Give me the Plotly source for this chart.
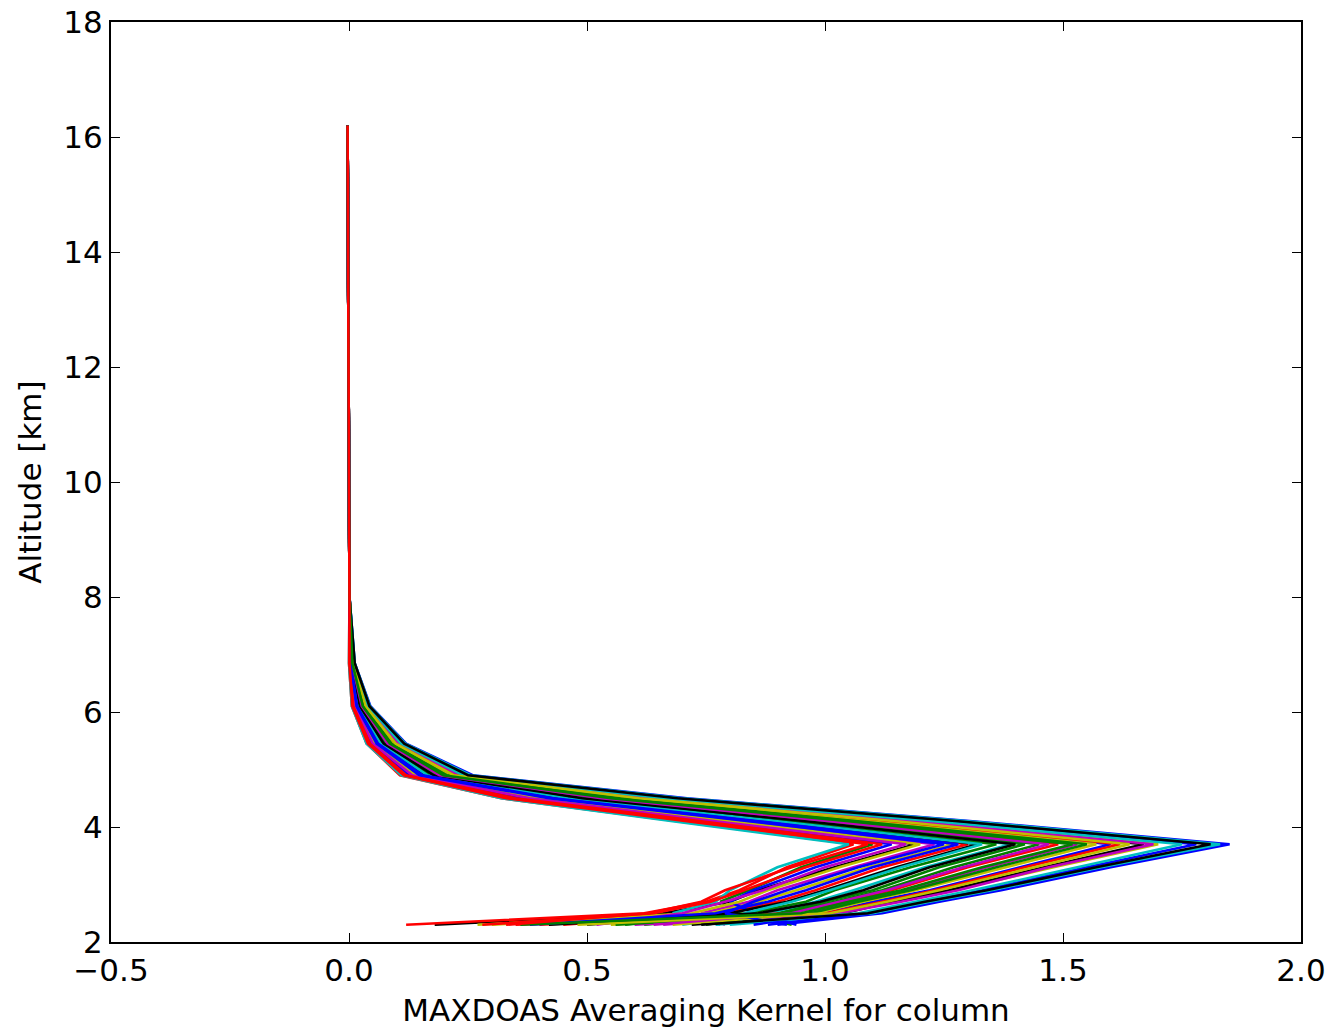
import plotly.graph_objects as go

# Altitude grid [km]
altitude_km = [2.3, 2.5, 2.7, 2.9, 3.3, 3.7, 4.1, 4.5, 4.9, 5.45, 6.1, 6.85, 8.0, 10.0, 12.5, 16.2]

# Common (overlapping) upper tail values at 8.0, 10.0, 12.5, 16.2 km
upper_tail = [0.001, 0.0, -0.002, -0.003]

# Averaging kernel values at 2.3 ... 6.85 km, one list per retrieval
profile_00 = [0.90, 1.12, 1.24, 1.37, 1.60, 1.85, 1.31, 0.71, 0.260, 0.120, 0.045, 0.012]
profile_01 = [0.93, 0.82, 0.78, 0.84, 0.95, 1.10, 0.72, 0.34, 0.120, 0.042, 0.008, 0.001]
profile_02 = [0.45, 0.78, 0.90, 0.98, 1.12, 1.30, 0.88, 0.44, 0.160, 0.063, 0.018, 0.004]
profile_03 = [0.80, 1.10, 1.22, 1.35, 1.58, 1.83, 1.30, 0.70, 0.255, 0.118, 0.044, 0.012]
profile_04 = [0.79, 0.74, 0.84, 0.90, 1.06, 1.23, 0.82, 0.41, 0.145, 0.056, 0.015, 0.003]
profile_05 = [0.55, 1.02, 1.15, 1.27, 1.48, 1.70, 1.19, 0.64, 0.230, 0.105, 0.038, 0.010]
profile_06 = [0.18, 0.66, 0.80, 0.86, 1.02, 1.19, 0.79, 0.39, 0.140, 0.052, 0.013, 0.002]
profile_07 = [0.85, 1.00, 1.10, 1.22, 1.41, 1.60, 1.12, 0.59, 0.215, 0.095, 0.033, 0.008]
profile_08 = [0.62, 0.90, 1.00, 1.10, 1.24, 1.42, 0.97, 0.50, 0.180, 0.075, 0.024, 0.006]
profile_09 = [0.12, 0.62, 0.75, 0.82, 0.92, 1.06, 0.69, 0.32, 0.107, 0.037, 0.006, 0.000]
profile_10 = [0.70, 0.88, 0.98, 1.06, 1.21, 1.39, 0.95, 0.49, 0.175, 0.072, 0.023, 0.005]
profile_11 = [0.66, 0.96, 1.06, 1.17, 1.34, 1.53, 1.06, 0.56, 0.200, 0.087, 0.030, 0.007]
profile_12 = [0.30, 0.76, 0.86, 0.94, 1.09, 1.27, 0.85, 0.43, 0.150, 0.060, 0.017, 0.003]
profile_13 = [0.72, 1.04, 1.14, 1.26, 1.46, 1.67, 1.17, 0.62, 0.225, 0.100, 0.036, 0.009]
profile_14 = [0.94, 0.85, 0.80, 0.85, 0.98, 1.14, 0.75, 0.36, 0.127, 0.046, 0.010, 0.001]
profile_15 = [0.58, 0.84, 0.96, 1.02, 1.18, 1.36, 0.92, 0.47, 0.170, 0.069, 0.021, 0.005]
profile_16 = [0.40, 0.92, 1.04, 1.14, 1.30, 1.49, 1.03, 0.54, 0.190, 0.083, 0.028, 0.007]
profile_17 = [0.78, 0.68, 0.77, 0.80, 0.90, 1.05, 0.68, 0.32, 0.110, 0.037, 0.006, 0.000]
profile_18 = [0.60, 1.03, 1.16, 1.28, 1.47, 1.69, 1.18, 0.63, 0.230, 0.103, 0.037, 0.009]
profile_19 = [0.27, 0.72, 0.82, 0.88, 1.03, 1.20, 0.80, 0.40, 0.140, 0.053, 0.013, 0.002]
profile_20 = [0.50, 0.80, 0.92, 1.00, 1.15, 1.32, 0.90, 0.45, 0.160, 0.065, 0.019, 0.004]
profile_21 = [0.88, 1.09, 1.20, 1.33, 1.55, 1.78, 1.26, 0.68, 0.245, 0.113, 0.041, 0.011]
profile_22 = [0.75, 0.91, 1.02, 1.12, 1.27, 1.45, 0.99, 0.52, 0.185, 0.079, 0.026, 0.006]
profile_23 = [0.35, 1.00, 1.12, 1.23, 1.42, 1.62, 1.13, 0.60, 0.220, 0.096, 0.034, 0.008]
profile_24 = [0.82, 0.83, 0.93, 1.01, 1.16, 1.33, 0.90, 0.46, 0.165, 0.066, 0.020, 0.004]
profile_25 = [0.52, 0.70, 0.79, 0.87, 1.00, 1.17, 0.77, 0.38, 0.133, 0.050, 0.012, 0.002]
profile_26 = [0.68, 0.98, 1.08, 1.19, 1.38, 1.57, 1.09, 0.57, 0.210, 0.091, 0.032, 0.008]
profile_27 = [0.42, 0.86, 0.99, 1.08, 1.22, 1.40, 0.96, 0.49, 0.178, 0.073, 0.023, 0.005]
profile_28 = [0.92, 0.79, 0.85, 0.92, 1.07, 1.25, 0.84, 0.42, 0.148, 0.058, 0.016, 0.003]
profile_29 = [0.56, 0.97, 1.07, 1.18, 1.36, 1.55, 1.07, 0.57, 0.205, 0.089, 0.031, 0.007]
profile_30 = [0.28, 0.64, 0.76, 0.83, 0.96, 1.12, 0.74, 0.35, 0.120, 0.044, 0.009, 0.001]
profile_31 = [0.77, 1.07, 1.19, 1.31, 1.53, 1.75, 1.23, 0.66, 0.240, 0.110, 0.040, 0.011]
profile_32 = [0.64, 0.93, 1.03, 1.13, 1.29, 1.47, 1.01, 0.53, 0.190, 0.081, 0.027, 0.006]
profile_33 = [0.48, 1.01, 1.13, 1.24, 1.44, 1.64, 1.15, 0.61, 0.220, 0.098, 0.035, 0.009]
profile_34 = [0.74, 1.09, 1.21, 1.34, 1.57, 1.81, 1.28, 0.69, 0.250, 0.116, 0.043, 0.012]
profile_35 = [0.38, 0.77, 0.88, 0.96, 1.10, 1.28, 0.86, 0.43, 0.155, 0.061, 0.017, 0.003]
profile_36 = [0.36, 0.95, 1.05, 1.16, 1.33, 1.52, 1.05, 0.55, 0.198, 0.086, 0.029, 0.007]
profile_37 = [0.33, 0.63, 0.74, 0.79, 0.93, 1.09, 0.71, 0.33, 0.115, 0.040, 0.007, 0.001]

profiles = [
    profile_00, profile_01, profile_02, profile_03, profile_04, profile_05,
    profile_06, profile_07, profile_08, profile_09, profile_10, profile_11,
    profile_12, profile_13, profile_14, profile_15, profile_16, profile_17,
    profile_18, profile_19, profile_20, profile_21, profile_22, profile_23,
    profile_24, profile_25, profile_26, profile_27, profile_28, profile_29,
    profile_30, profile_31, profile_32, profile_33, profile_34, profile_35,
    profile_36, profile_37,
]

# matplotlib classic colour cycle: b, g, r, c, m, y, k
color_cycle = ["#0000ff", "#008000", "#ff0000", "#00bfbf", "#bf00bf", "#bfbf00", "#000000"]

x_ticks = [-0.5, 0.0, 0.5, 1.0, 1.5, 2.0]
y_ticks = [2, 4, 6, 8, 10, 12, 14, 16, 18]

fig = go.Figure()
for i, prof in enumerate(profiles):
    fig.add_trace(go.Scatter(
        x=prof + upper_tail,
        y=altitude_km,
        mode="lines",
        line=dict(color=color_cycle[i % len(color_cycle)], width=2.6),
        showlegend=False,
        hoverinfo="skip",
    ))

font_family = "DejaVu Sans"
axis_common = dict(
    showgrid=False, zeroline=False, automargin=False,
    showline=True, linecolor="black", linewidth=2, mirror="ticks",
    ticks="inside", ticklen=9, tickwidth=1.2, tickcolor="black",
    tickfont=dict(family=font_family, size=31, color="black"),
)

fig.update_layout(
    width=1333, height=1031,
    margin=dict(l=111, r=32, t=22, b=89),
    paper_bgcolor="white", plot_bgcolor="white",
    font=dict(family=font_family, size=31, color="black"),
    xaxis=dict(
        range=[-0.5, 2.0], tickvals=x_ticks,
        ticktext=[("\u2212%.1f" % abs(v)) if v < 0 else ("%.1f" % v) for v in x_ticks],
        title=dict(text="MAXDOAS Averaging Kernel for column",
                   font=dict(family=font_family, size=31), standoff=12),
        **axis_common,
    ),
    yaxis=dict(
        range=[2, 18], tickvals=y_ticks,
        title=dict(text="Altitude [km]",
                   font=dict(family=font_family, size=31), standoff=12),
        **axis_common,
    ),
)

fig.write_html("out.html")
